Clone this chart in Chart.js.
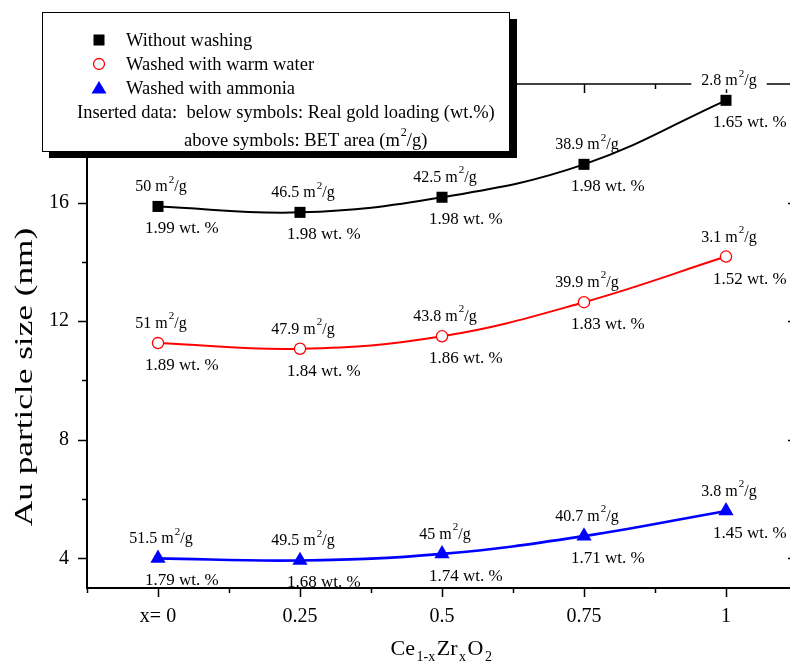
<!DOCTYPE html>
<html><head><meta charset="utf-8">
<script src="https://cdn.jsdelivr.net/npm/chart.js@4.4.1/dist/chart.umd.min.js"></script>
<style>html,body{margin:0;padding:0;background:#fff;overflow:hidden;width:790px;height:663px}
canvas{display:block}</style></head>
<body><canvas id="c" width="810" height="663" style="width:810px;height:663px"></canvas>
<script>
// ---- data ----
const categories = [0, 0.25, 0.5, 0.75, 1];
const xTickLabels = ['x= 0', '0.25', '0.5', '0.75', '1'];
const xMinorTicks = [-0.125, 0.125, 0.375, 0.625, 0.875, 1.125];
const yMajorTicks = [4, 8, 12, 16];
const yMinorTicks = [6, 10, 14, 18];
const seriesNames = ['Without washing', 'Washed with warm water', 'Washed with ammonia'];
const withoutWashing = [15.87, 15.67, 16.18, 17.29, 19.45];
const warmWater = [11.26, 11.07, 11.49, 12.64, 14.18];
const ammonia = [4.0, 3.93, 4.15, 4.75, 5.6];
const betWithout = ['50', '46.5', '42.5', '38.9', '2.8'];
const betWarm = ['51', '47.9', '43.8', '39.9', '3.1'];
const betAmmonia = ['51.5', '49.5', '45', '40.7', '3.8'];
const wtWithout = ['1.99', '1.98', '1.98', '1.98', '1.65'];
const wtWarm = ['1.89', '1.84', '1.86', '1.83', '1.52'];
const wtAmmonia = ['1.79', '1.68', '1.74', '1.71', '1.45'];
const legendNote1 = 'Inserted data:  below symbols: Real gold loading (wt.%)';
const legendNote2a = 'above symbols: BET area (m';
const legendNote2b = '/g)';
const yTitle = 'Au particle size (nm)';

const SERIF = '"Liberation Serif", "Times New Roman", serif';
const colors = ['#000000', '#ff0000', '#0000ff'];
const styles = ['rect', 'circle', 'triangle'];
const betSets = [betWithout, betWarm, betAmmonia];
const wtSets = [wtWithout, wtWarm, wtAmmonia];

function pts(vals) { return categories.map((c, i) => ({x: c, y: vals[i]})); }

function drawSym(ctx, style, x, y, color) {
  ctx.save();
  ctx.fillStyle = color; ctx.strokeStyle = color;
  if (style === 'rect') {
    ctx.fillRect(x - 5.5, y - 5.5, 11, 11);
  } else if (style === 'circle') {
    ctx.fillStyle = '#fff'; ctx.lineWidth = 1.3;
    ctx.beginPath(); ctx.arc(x, y, 5.5, 0, Math.PI * 2); ctx.fill(); ctx.stroke();
  } else {
    ctx.beginPath();
    ctx.moveTo(x, y - 7); ctx.lineTo(x + 7.5, y + 5.5); ctx.lineTo(x - 7.5, y + 5.5);
    ctx.closePath(); ctx.fill();
  }
  ctx.restore();
}

function supSize(size) { return Math.round(size * 0.66); }
function supWidth(ctx, pre, post, size) {
  ctx.font = size + 'px ' + SERIF;
  const a = ctx.measureText(pre).width, c = ctx.measureText(post).width;
  ctx.font = supSize(size) + 'px ' + SERIF;
  const b = ctx.measureText('2').width;
  return {a, b, c, w: a + b + 1 + c};
}
function drawSup(ctx, pre, post, x, y, size) {
  const m = supWidth(ctx, pre, post, size);
  ctx.textAlign = 'left'; ctx.textBaseline = 'alphabetic';
  ctx.font = size + 'px ' + SERIF;
  ctx.fillText(pre, x, y);
  ctx.font = supSize(size) + 'px ' + SERIF;
  ctx.fillText('2', x + m.a + 1, y - size * 0.55);
  ctx.font = size + 'px ' + SERIF;
  ctx.fillText(post, x + m.a + m.b + 1, y);
  return m.w;
}

const framePlugin = {
  id: 'frame',
  beforeDatasetsDraw(chart) {
    const {ctx, chartArea: a, scales: {x, y}} = chart;
    ctx.save();
    ctx.strokeStyle = '#000';
    const ln = (x1, y1, x2, y2, w) => { ctx.lineWidth = w; ctx.beginPath(); ctx.moveTo(x1, y1); ctx.lineTo(x2, y2); ctx.stroke(); };
    categories.forEach(v => {
      const p = Math.round(x.getPixelForValue(v)) + 0.5;
      ln(p, a.bottom, p, a.bottom + 9, 1.5); ln(p, a.top, p, a.top + 9, 1.5);
    });
    xMinorTicks.forEach(v => {
      const p = Math.round(x.getPixelForValue(v)) + 0.5;
      ln(p, a.bottom, p, a.bottom + 5, 1.5); ln(p, a.top, p, a.top + 5, 1.5);
    });
    yMajorTicks.forEach(v => {
      const p = Math.round(y.getPixelForValue(v)) + 0.5;
      ln(a.left - 9, p, a.left, p, 1.5); ln(a.right - 9, p, a.right, p, 1.5);
    });
    yMinorTicks.forEach(v => {
      const p = Math.round(y.getPixelForValue(v)) + 0.5;
      ln(a.left - 5, p, a.left, p, 1.5); ln(a.right - 5, p, a.right, p, 1.5);
    });
    ln(a.left, a.top, a.right, a.top, 1.5);
    ln(a.right, a.top, a.right, a.bottom, 1.5);
    ln(a.left, a.top - 1, a.left, a.bottom + 1, 2);
    ln(a.left - 1, a.bottom, a.right, a.bottom, 2);

    // data annotations
    const seriesVals = [withoutWashing, warmWater, ammonia];
    seriesVals.forEach((vals, s) => {
      categories.forEach((c, i) => {
        const px = x.getPixelForValue(c), py = y.getPixelForValue(vals[i]);
        const pre = betSets[s][i] + ' m';
        const m = supWidth(ctx, pre, '/g', 16);
        const lx = px + 3 - m.w / 2, ly = py - 15;
        ctx.fillStyle = '#fff';
        ctx.fillRect(lx - 10, ly - 14, m.w + 20, 18);
        ctx.fillStyle = '#000';
        drawSup(ctx, pre, '/g', lx, ly, 16);
        ctx.font = '17px ' + SERIF;
        ctx.fillText(wtSets[s][i] + ' wt. %', px - 13, py + 27);
      });
    });
    // y title (stretched along its length)
    ctx.save();
    ctx.translate(25, 377);
    ctx.rotate(-Math.PI / 2);
    ctx.scale(1.41, 1);
    ctx.font = '25px ' + SERIF;
    ctx.textAlign = 'center'; ctx.textBaseline = 'middle';
    ctx.fillStyle = '#000';
    ctx.fillText(yTitle, 0, 0);
    ctx.restore();
    // x title with subscripts
    const parts = [['Ce', 0], ['1-x', 1], ['Zr', 0], ['x', 1], ['O', 0], ['2', 1]];
    let widths = parts.map(([t, sub]) => { ctx.font = (sub ? 14 : 22) + 'px ' + SERIF; return ctx.measureText(t).width + 1.5; });
    const total = widths.reduce((p, q) => p + q, 0);
    let cx = x.getPixelForValue(0.5) - total / 2;
    ctx.textAlign = 'left'; ctx.textBaseline = 'alphabetic';
    parts.forEach(([t, sub], i) => {
      ctx.font = (sub ? 14 : 22) + 'px ' + SERIF;
      ctx.fillText(t, cx, sub ? 661 : 655);
      cx += widths[i];
    });
    ctx.restore();
  }
};

const legendPlugin = {
  id: 'legendBox',
  afterDraw(chart) {
    const ctx = chart.ctx;
    ctx.save();
    ctx.fillStyle = '#000'; ctx.fillRect(49, 19, 468, 139);
    ctx.fillStyle = '#fff'; ctx.fillRect(42, 12, 467, 139);
    ctx.strokeStyle = '#000'; ctx.lineWidth = 1; ctx.strokeRect(42.5, 12.5, 467, 139);
    const ys = [40, 64, 88];
    chart.data.datasets.forEach((ds, i) => {
      drawSym(ctx, styles[i], 99, ys[i], colors[i]);
      ctx.fillStyle = '#000';
      ctx.font = '18.5px ' + SERIF; ctx.textAlign = 'left'; ctx.textBaseline = 'alphabetic';
      ctx.fillText(ds.label, 126, ys[i] + 6);
    });
    ctx.font = '18.5px ' + SERIF;
    ctx.fillText(legendNote1, 77, 118);
    drawSup(ctx, legendNote2a, legendNote2b, 184, 146, 18.5);
    ctx.restore();
  }
};

const tickFont = {family: SERIF, size: 20};
new Chart(document.getElementById('c'), {
  type: 'line',
  data: {
    datasets: [withoutWashing, warmWater, ammonia].map((vals, i) => ({
      label: seriesNames[i],
      data: pts(vals),
      borderColor: colors[i],
      backgroundColor: i === 1 ? '#ffffff' : colors[i],
      pointBorderColor: colors[i],
      pointBackgroundColor: i === 1 ? '#ffffff' : colors[i],
      pointStyle: styles[i],
      pointRadius: [7.8, 5.6, 8.8][i],
      pointBorderWidth: [0, 1.3, 0][i],
      borderWidth: [2, 2, 2.6][i],
      tension: 0.4,
      fill: false,
      clip: false
    }))
  },
  options: {
    responsive: false,
    devicePixelRatio: 1,
    animation: false,
    layout: {padding: {top: 84, right: 13, left: 0, bottom: 0}},
    plugins: {legend: {display: false}, tooltip: {enabled: false}},
    scales: {
      x: {
        type: 'linear', min: -0.125, max: 1.125,
        afterBuildTicks: s => { s.ticks = categories.concat(xMinorTicks).sort((p, q) => p - q).map(v => ({value: v})); },
        afterFit: s => { s.height = 75; },
        ticks: {
          font: tickFont, color: '#000', padding: 8, maxRotation: 0, autoSkip: false,
          callback: v => { const k = categories.indexOf(v); return k >= 0 ? xTickLabels[k] : ''; }
        },
        grid: {display: true, drawOnChartArea: false, drawTicks: true, tickLength: 9, tickColor: 'rgba(0,0,0,0)'},
        border: {display: false}
      },
      y: {
        type: 'linear', min: 3, max: 20,
        afterBuildTicks: s => { s.ticks = yMajorTicks.concat(yMinorTicks, [20]).sort((p, q) => p - q).map(v => ({value: v})); },
        afterFit: s => { s.width = 87; },
        ticks: {
          font: tickFont, color: '#000', padding: 9, autoSkip: false,
          callback: v => yMajorTicks.includes(v) ? String(v) : ''
        },
        grid: {display: true, drawOnChartArea: false, drawTicks: true, tickLength: 9, tickColor: 'rgba(0,0,0,0)'},
        border: {display: false}
      }
    }
  },
  plugins: [framePlugin, legendPlugin]
});
</script></body></html>
